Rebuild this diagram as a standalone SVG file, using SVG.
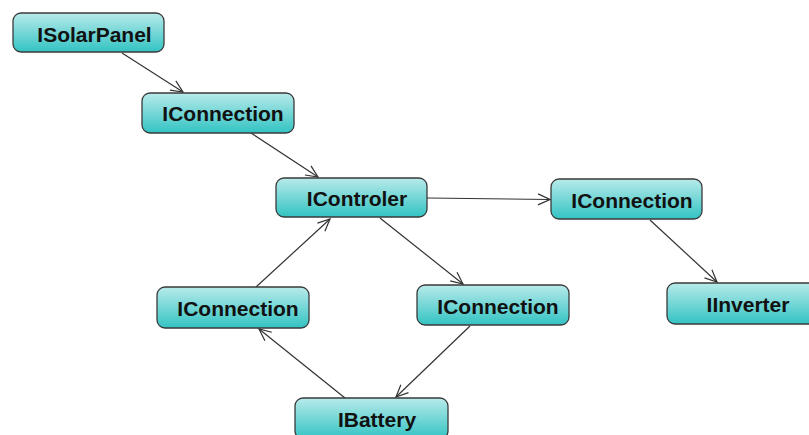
<svg xmlns="http://www.w3.org/2000/svg" width="809" height="435" viewBox="0 0 809 435">
  <style>
    .box { fill: url(#teal); stroke: #3a3a3a; stroke-width: 1.3; }
    .lbl { font-family: "Liberation Sans", Arial, sans-serif; font-weight: bold; font-size: 21px; fill: #111; text-anchor: middle; }
    .edge { stroke: #333; stroke-width: 1.2; fill: none; marker-end: url(#arrow); }
  </style>
  <defs>
    <linearGradient id="teal" x1="0" y1="0" x2="0" y2="1">
      <stop offset="0" stop-color="#b8eaea"/>
      <stop offset="1" stop-color="#33c3c3"/>
    </linearGradient>
    <!-- open V arrowhead used by every connector -->
    <marker id="arrow" viewBox="0 0 14 14" refX="13" refY="7" markerWidth="14" markerHeight="14" markerUnits="userSpaceOnUse" orient="auto">
      <path d="M1,1.5 L13,7 L1,12.5" fill="none" stroke="#333" stroke-width="1.2"/>
    </marker>
  </defs>

  <rect width="809" height="435" fill="#ffffff"/>

  <g id="connectors">
    <line class="edge" x1="122" y1="53" x2="183" y2="92"/>
    <line class="edge" x1="251" y1="133" x2="318" y2="177"/>
    <line class="edge" x1="427" y1="198" x2="550" y2="199.5"/>
    <line class="edge" x1="650" y1="220" x2="717" y2="282"/>
    <line class="edge" x1="380" y1="218" x2="463" y2="284"/>
    <line class="edge" x1="470" y1="326" x2="396" y2="397"/>
    <line class="edge" x1="345" y1="398" x2="259" y2="329"/>
    <line class="edge" x1="256" y1="287" x2="330" y2="219"/>
  </g>

  <g id="solar-panel">
    <rect class="box" x="13" y="13" width="151" height="39" rx="8"/>
    <text class="lbl" x="94.5" y="42">ISolarPanel</text>
  </g>
  <g id="connection-1">
    <rect class="box" x="142" y="93" width="152" height="40" rx="8"/>
    <text class="lbl" x="223" y="121">IConnection</text>
  </g>
  <g id="controler">
    <rect class="box" x="276" y="178" width="151" height="39" rx="8"/>
    <text class="lbl" x="357" y="206">IControler</text>
  </g>
  <g id="connection-2">
    <rect class="box" x="551" y="179" width="151" height="40" rx="8"/>
    <text class="lbl" x="632" y="207.5">IConnection</text>
  </g>
  <g id="inverter">
    <rect class="box" x="667" y="283" width="151" height="41" rx="8"/>
    <text class="lbl" x="748" y="311.5">IInverter</text>
  </g>
  <g id="connection-3">
    <rect class="box" x="417" y="285" width="152" height="40" rx="8"/>
    <text class="lbl" x="498" y="313.5">IConnection</text>
  </g>
  <g id="connection-4">
    <rect class="box" x="157" y="287" width="152" height="41" rx="8"/>
    <text class="lbl" x="238" y="316">IConnection</text>
  </g>
  <g id="battery">
    <rect class="box" x="295" y="398" width="153" height="41" rx="8"/>
    <text class="lbl" x="377" y="427">IBattery</text>
  </g>
</svg>
